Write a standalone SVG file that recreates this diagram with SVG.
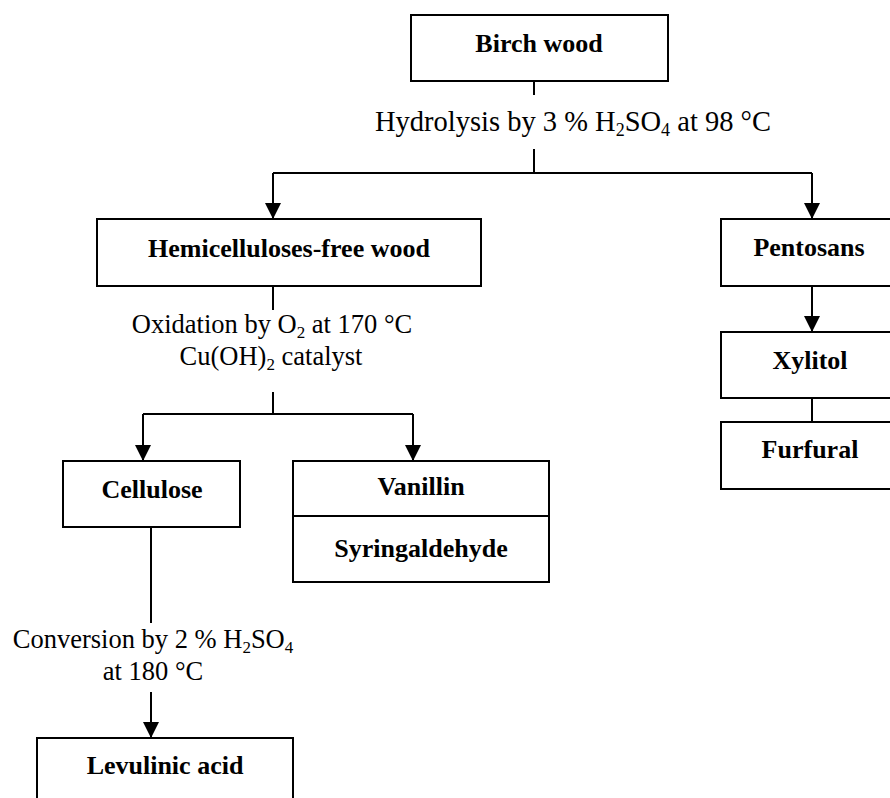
<svg xmlns="http://www.w3.org/2000/svg" width="890" height="798" viewBox="0 0 890 798">
  <style>
    .box { fill: #ffffff; stroke: #000000; stroke-width: 2; }
    .conn { fill: none; stroke: #000000; stroke-width: 2; }
  </style>
  <defs>
    <marker id="arrow" viewBox="0 0 16 16" refX="16" refY="8" markerWidth="16" markerHeight="16" markerUnits="userSpaceOnUse" orient="auto">
      <path d="M0,0 L16,8 L0,16 Z" fill="#000000"/>
    </marker>
  </defs>
  <rect width="890" height="798" fill="#ffffff"/>

  <g id="connectors">
    <path class="conn" d="M534,81 V95"/>
    <path class="conn" d="M534,149 V173"/>
    <path class="conn" d="M273,173 H812"/>
    <path class="conn" d="M273,173 V219" marker-end="url(#arrow)"/>
    <path class="conn" d="M812,173 V219" marker-end="url(#arrow)"/>
    <path class="conn" d="M273,286 V310"/>
    <path class="conn" d="M273,392 V414"/>
    <path class="conn" d="M143,414 H413"/>
    <path class="conn" d="M143,414 V461" marker-end="url(#arrow)"/>
    <path class="conn" d="M413,414 V461" marker-end="url(#arrow)"/>
    <path class="conn" d="M812,286 V332" marker-end="url(#arrow)"/>
    <path class="conn" d="M812,398 V422"/>
    <path class="conn" d="M151,527 V623"/>
    <path class="conn" d="M151,692 V738" marker-end="url(#arrow)"/>
  </g>

  <g id="labels" font-family="Liberation Serif" font-size="26.5" fill="#000000">
    <text x="375" y="131" font-size="28.5">Hydrolysis by 3 % H<tspan font-size="18" dy="5">2</tspan><tspan dy="-5">SO</tspan><tspan font-size="18" dy="5">4</tspan><tspan dy="-5"> at 98 °C</tspan></text>
    <text text-anchor="middle" x="272" y="333">Oxidation by O<tspan font-size="17" dy="5">2</tspan><tspan dy="-5"> at 170 °C</tspan></text>
    <text text-anchor="middle" x="271" y="365">Cu(OH)<tspan font-size="17" dy="5">2</tspan><tspan dy="-5"> catalyst</tspan></text>
    <text text-anchor="middle" x="153" y="648">Conversion by 2 % H<tspan font-size="17" dy="5">2</tspan><tspan dy="-5">SO</tspan><tspan font-size="17" dy="5">4</tspan></text>
    <text text-anchor="middle" x="153" y="680">at 180 °C</text>
  </g>

  <g id="nodes" font-family="Liberation Serif" font-size="26" font-weight="bold" text-anchor="middle" fill="#000000">
    <g id="birch-wood">
      <rect class="box" x="411" y="15" width="257" height="66"/>
      <text x="539" y="52">Birch wood</text>
    </g>
    <g id="hemicelluloses-free-wood">
      <rect class="box" x="97" y="219" width="384" height="67"/>
      <text x="289" y="257">Hemicelluloses-free wood</text>
    </g>
    <g id="pentosans">
      <rect class="box" x="721" y="219" width="180" height="67"/>
      <text x="809" y="256">Pentosans</text>
    </g>
    <g id="xylitol">
      <rect class="box" x="721" y="332" width="180" height="66"/>
      <text x="810" y="369">Xylitol</text>
    </g>
    <g id="furfural">
      <rect class="box" x="721" y="422" width="180" height="67"/>
      <text x="810" y="458">Furfural</text>
    </g>
    <g id="cellulose">
      <rect class="box" x="63" y="461" width="177" height="66"/>
      <text x="152" y="498">Cellulose</text>
    </g>
    <g id="vanillin-syringaldehyde">
      <rect class="box" x="293" y="461" width="256" height="121"/>
      <line class="conn" x1="293" y1="516" x2="549" y2="516"/>
      <text x="421" y="495">Vanillin</text>
      <text x="421" y="557">Syringaldehyde</text>
    </g>
    <g id="levulinic-acid">
      <rect class="box" x="37" y="738" width="256" height="80"/>
      <text x="165" y="774">Levulinic acid</text>
    </g>
  </g>
</svg>
